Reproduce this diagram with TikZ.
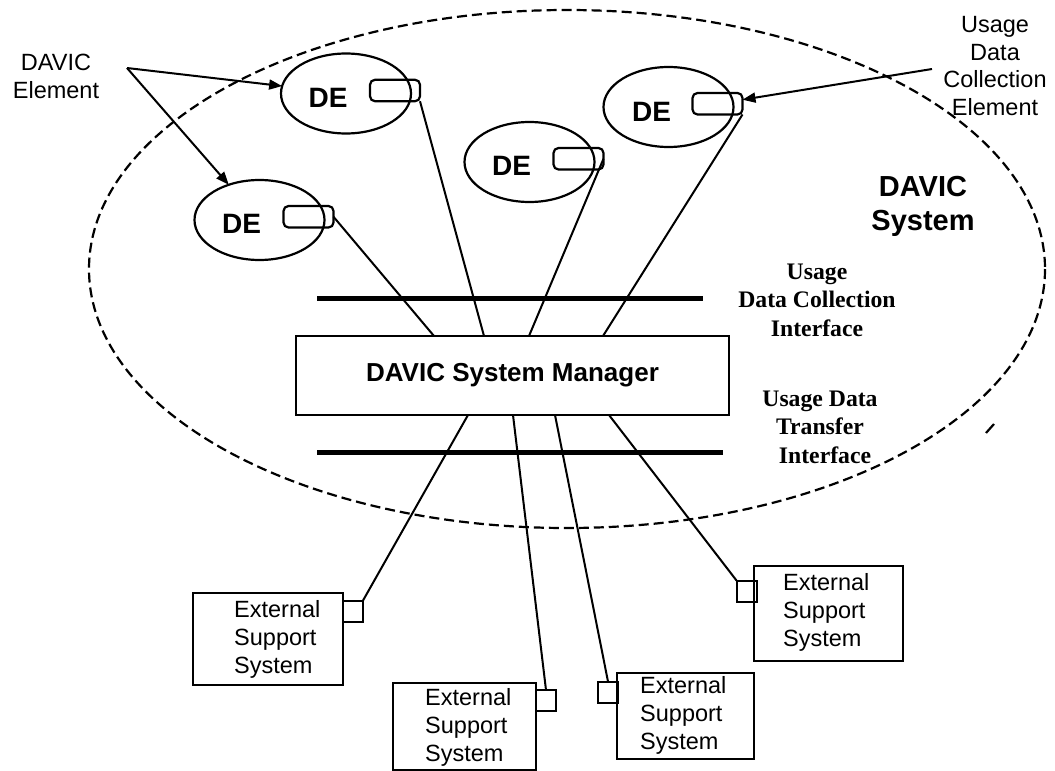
\documentclass[tikz,border=0pt]{standalone}
\usepackage{fontspec}
\setmainfont{Liberation Serif}
\newfontfamily\arial{Liberation Sans}
\usetikzlibrary{shapes.geometric,arrows.meta}
\begin{document}
\begin{tikzpicture}[x=1pt,y=-1pt,
  conn/.style={line width=2pt},
  bar/.style={line width=5pt},
  arr/.style={line width=2pt,-{Triangle[length=13pt,width=10pt]}},
  sysell/.style={line width=2.2pt,dash pattern=on 10pt off 5pt},
  deell/.style={draw,ellipse,line width=2.2pt,minimum width=130pt,minimum height=80pt,inner sep=0pt,outer sep=0pt},
  port/.style={draw,rounded corners=5pt,line width=2.2pt,minimum width=50pt,minimum height=21.5pt,inner sep=0pt,outer sep=0pt},
  detext/.style={font=\arial\bfseries\fontsize{28}{30}\selectfont,inner sep=0pt},
  box/.style={draw,line width=2pt,inner sep=0pt,outer sep=0pt},
  sq/.style={draw,line width=2pt,minimum width=20pt,minimum height=21pt,inner sep=0pt,outer sep=0pt},
  esstext/.style={font=\arial\fontsize{23.5}{28}\selectfont,align=left,inner sep=0pt,anchor=west},
  lab/.style={font=\arial\fontsize{23.5}{27.7}\selectfont,align=center,inner sep=0pt},
  ifc/.style={font=\bfseries\fontsize{23.7}{28.5}\selectfont,align=center,inner sep=0pt},
  sys/.style={font=\arial\bfseries\fontsize{29}{34}\selectfont,align=center,inner sep=0pt},
  mgrbox/.style={draw,line width=2pt,minimum width=433pt,minimum height=79pt,inner sep=0pt,outer sep=0pt,font=\arial\bfseries\fontsize{26}{30}\selectfont}
]
\useasboundingbox (0,0) rectangle (1055,771);

% DAVIC system boundary
\draw[sysell] (567,269) ellipse [x radius=478, y radius=259];
\draw[line width=2.2pt] (986,433) -- (994,424);

% DAVIC elements
\node[deell] (de1) at (346,93.5) {};
\node[deell] (de2) at (259.5,220) {};
\node[deell] (de3) at (529.5,162) {};
\node[deell] (de4) at (668.5,107) {};
\node[detext] (t1) at (328,97.5) {DE};
\node[detext] (t2) at (241.5,224) {DE};
\node[detext] (t3) at (511.5,166) {DE};
\node[detext] (t4) at (651.5,111.5) {DE};
\node[port] (p1) at (395,90.5) {};
\node[port] (p2) at (308.5,216.75) {};
\node[port] (p3) at (578.5,158.75) {};
\node[port] (p4) at (717.5,103.75) {};

% interface bars
\coordinate (ba1) at (317,298); \coordinate (ba2) at (703,298);
\coordinate (bb1) at (317,452); \coordinate (bb2) at (723,452);
\draw[bar] (ba1) -- (ba2);
\draw[bar] (bb1) -- (bb2);

% manager
\node[mgrbox] (mgr) at (512.5,375.5) {DAVIC System Manager};
\coordinate (m1) at (434,336); \coordinate (m2) at (484,336);
\coordinate (m3) at (529,336); \coordinate (m4) at (603,336);
\coordinate (n1) at (468,415); \coordinate (n2) at (513,415);
\coordinate (n3) at (555,415); \coordinate (n4) at (609,415);

\draw[conn] (p2.east) -- (m1);
\draw[conn] (p1.south east) -- (m2);
\draw[conn] (p3.east) -- (m3);
\draw[conn] (p4.south east) -- (m4);

% external support systems
\node[box,minimum width=150pt,minimum height=92pt] (e1) at (268,639) {};
\node[sq] (s1) at (353,611) {};
\node[esstext] (x1) at (234,639) {External\\Support\\System};
\node[box,minimum width=143pt,minimum height=87pt] (e2) at (464.5,726.5) {};
\node[sq] (s2) at (546,700.5) {};
\node[esstext] (x2) at (425,727) {External\\Support\\System};
\node[box,minimum width=137pt,minimum height=86pt] (e3) at (685.5,716) {};
\node[sq] (s3) at (608,692) {};
\node[esstext] (x3) at (640,715) {External\\Support\\System};
\node[box,minimum width=149pt,minimum height=95pt] (e4) at (828.5,613.5) {};
\node[sq] (s4) at (746.5,591) {};
\node[esstext] (x4) at (783,612) {External\\Support\\System};

\draw[conn] (n1) -- (s1.north east);
\draw[conn] (n2) -- (s2.north);
\draw[conn] (n3) -- (s3.north);
\draw[conn] (n4) -- (s4.north west);

% labels
\node[lab] (l1) at (56,76.5) {DAVIC\\Element};
\coordinate (a1) at (127,68);
\draw[arr] (a1) -- (de1);
\draw[arr] (a1) -- (de2);
\node[lab] (l2) at (995,66) {Usage\\Data\\Collection\\Element};
\coordinate (a2) at (932,69);
\draw[arr] (a2) -- (p4);
\node[sys] (sy) at (923,206) {DAVIC\\System};
\node[ifc] (i1) at (817,300) {Usage\\Data Collection\\Interface};
\node[ifc] (i2) at (820,427) {Usage Data\\Transfer\\\hspace*{10pt}Interface};
\end{tikzpicture}
\end{document}
